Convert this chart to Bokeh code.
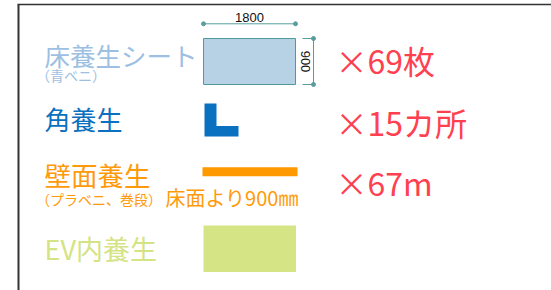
import math
from bokeh.plotting import figure
from bokeh.models import Range1d
from bokeh.core.properties import value
from bokeh.embed import file_html
from bokeh.resources import INLINE

# ---------------- data ----------------
item_labels = ["床養生シート", "角養生", "壁面養生", "EV内養生"]
item_notes = ["（青ベニ）", "", "（プラベニ、巻段）", ""]
item_colors = ["#9dbfe2", "#0a70c0", "#ff9a0a", "#d4e384"]
counts = [69, 15, 67]
count_units = ["枚", "カ所", "m"]
sheet_size_mm = [1800, 900]
wall_note = "床面より900㎜"

# ---------------- layout (pixel space, y down) ----------------
W, H = 551, 290

JP = value("Noto Sans CJK JP")
SANS = value("Liberation Sans")

p = figure(width=W, height=H, x_range=Range1d(0, W), y_range=Range1d(H, 0),
           output_backend="svg", toolbar_location=None, min_border=0,
           x_axis_type=None, y_axis_type=None)
p.grid.visible = False
p.outline_line_color = None
p.background_fill_color = "white"
p.border_fill_color = "white"

# frame lines
p.line(x=[17, W], y=[4, 4], line_color="#333333", line_width=1.5)
p.line(x=[18, 18], y=[4, H], line_color="#333333", line_width=2)

row_y = [53.5, 118, 173.5, 248]
label_x = 44
label_size = ["25.5px", "26px", "26.5px", "27px"]
for i, lab in enumerate(item_labels):
    p.text(x=[label_x], y=[row_y[i]], text=[lab], text_font=JP,
           text_font_size=label_size[i], text_color=item_colors[i],
           text_align="left", text_baseline="middle")
note_y = [74.5, None, 198.5, None]
for i, note in enumerate(item_notes):
    if note:
        p.text(x=[label_x - 8.5], y=[note_y[i]], text=[note], text_font=JP,
               text_font_size="14px", text_color=item_colors[i],
               text_align="left", text_baseline="middle")

# sheet rectangle, scaled from its size in mm
scale = 92 / sheet_size_mm[0]
sx0, sy0 = 203, 38
sw, sh = sheet_size_mm[0] * scale, sheet_size_mm[1] * scale
p.quad(left=[sx0], right=[sx0 + sw], top=[sy0], bottom=[sy0 + sh],
       fill_color="#b7d2e5", line_color="#4f9b9c", line_width=1)

dim_col = "#5a9d9e"
# horizontal dimension
dy = 23.3
p.line(x=[sx0, sx0 + sw], y=[dy, dy], line_color=dim_col, line_width=1)
p.scatter(x=[sx0, sx0 + sw], y=[dy, dy], size=4, color=dim_col)
p.text(x=[sx0 + sw / 2], y=[dy - 2], text=[str(sheet_size_mm[0])], text_font=SANS,
       text_font_size="13px", text_color="#111111", text_align="center",
       text_baseline="bottom")
# vertical dimension
dx = 313
p.line(x=[dx, dx], y=[sy0, sy0 + sh], line_color=dim_col, line_width=1)
for yy in (sy0, sy0 + sh):
    p.line(x=[302, dx], y=[yy, yy], line_color=dim_col, line_width=1)
p.scatter(x=[dx, dx], y=[sy0, sy0 + sh], size=4, color=dim_col)
p.text(x=[305], y=[sy0 + sh / 2], text=[str(sheet_size_mm[1])], text_font=SANS,
       text_font_size="13px", text_color="#111111", text_align="center",
       text_baseline="middle", angle=-math.pi / 2)

# corner guard (L shape)
p.patch(x=[204, 216, 216, 238, 238, 204],
        y=[103, 103, 125.5, 125.5, 136, 136],
        fill_color=item_colors[1], line_color=None)

# wall protection bar
p.quad(left=[202], right=[297], top=[166.7], bottom=[175.7],
       fill_color="#ff9900", line_color=None)
p.text(x=[165], y=[196.5], text=[wall_note], text_font=JP,
       text_font_size="20px", text_color=item_colors[2],
       text_align="left", text_baseline="middle")

# EV box
p.quad(left=[203], right=[295.5], top=[225], bottom=[271.5],
       fill_color="#d5e485", line_color=None)

# counts
count_y = [59.5, 121, 181.5]
for i, (c, u) in enumerate(zip(counts, count_units)):
    p.text(x=[335], y=[count_y[i]], text=[f"×{c}{u}"], text_font=JP,
           text_font_size="32px", text_color="#ff4050",
           text_align="left", text_baseline="middle")

open("out.html", "w").write(file_html(p, INLINE))
